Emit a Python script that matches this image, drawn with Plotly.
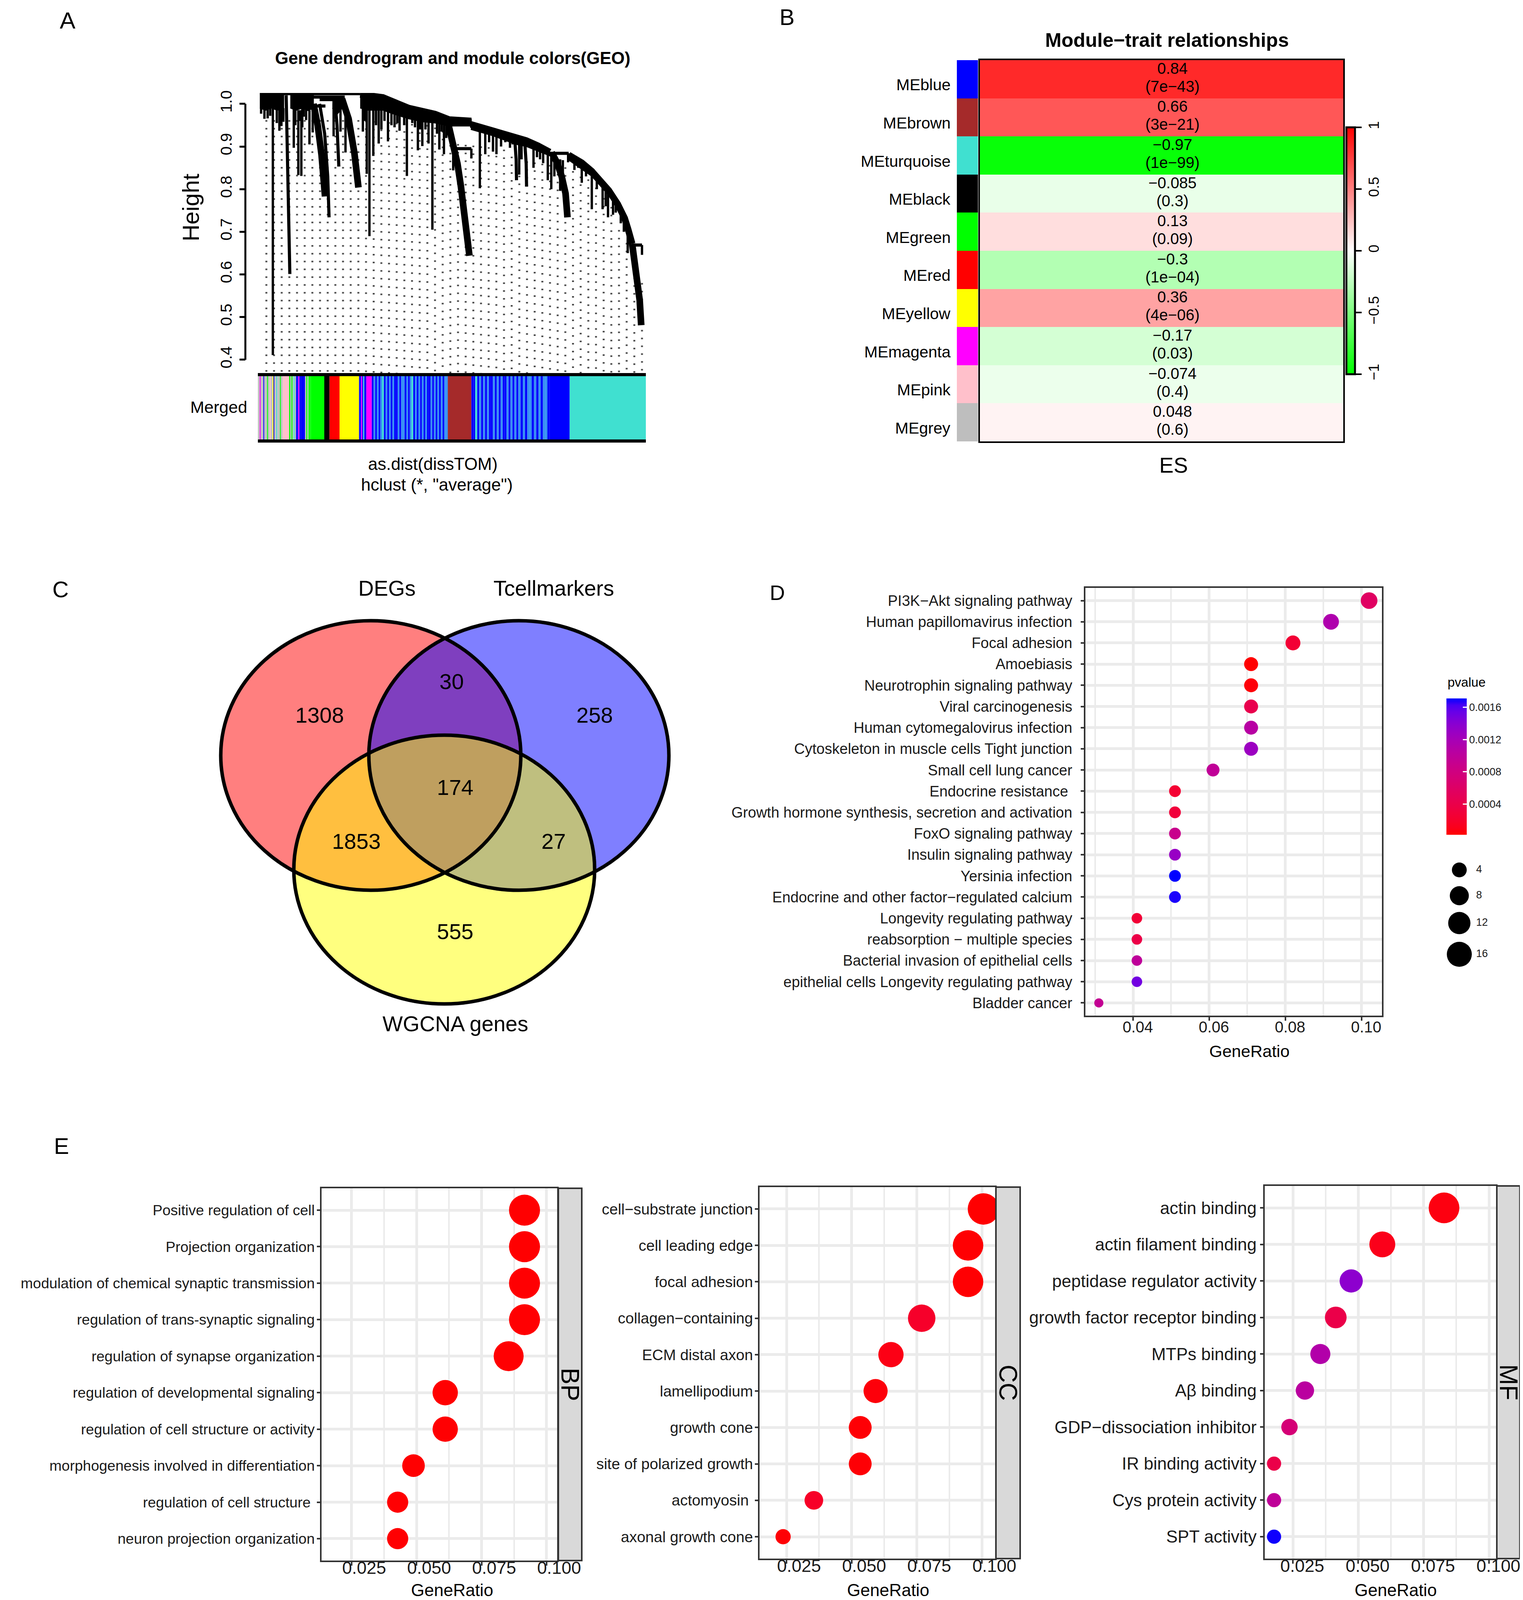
import numpy as np
import plotly.graph_objects as go

W, H = 3898, 4109
REG = "Liberation Sans, Arial, Helvetica, sans-serif"

# ====================== DATA ======================
# ---- Panel A : dendrogram (leaf position in % of ordered genes, merge height) ----
dendro_heavy = [
    [(26.0, 1.022), (31.9, 1.015), (38.6, 0.990), (45.4, 0.976), (49.1, 0.963), (54.8, 0.960)],
    [(54.65, 0.952), (57.0, 0.946), (60.4, 0.938), (64.8, 0.927), (66.3, 0.921), (69.0, 0.914), (72.0, 0.902), (75.1, 0.887)],
    [(80.0, 0.880), (83.4, 0.862), (86.0, 0.842), (88.8, 0.816), (90.4, 0.797), (92.7, 0.765), (94.5, 0.732), (95.4, 0.706), (96.45, 0.672)],
    [(96.45, 0.672), (97.2, 0.630), (97.9, 0.585), (98.4, 0.540), (98.8, 0.481)],
    [(48.7, 0.958), (50.2, 0.907), (51.2, 0.860), (52.1, 0.806), (53.1, 0.739), (53.8, 0.690), (54.3, 0.644)],
    [(13.9, 1.000), (15.0, 0.950), (16.0, 0.880), (16.75, 0.800), (16.9, 0.783)],
    [(21.3, 1.012), (23.0, 0.965), (24.5, 0.885), (25.3, 0.830), (25.55, 0.804)],
    [(75.6, 0.886), (77.0, 0.862), (78.2, 0.830), (79.2, 0.790), (79.7, 0.734)],
]
dendro_light = [
    [(6.83, 1.020), (7.3, 0.800), (7.78, 0.601)],
    [(15.5, 1.000), (16.8, 0.930), (17.6, 0.830), (17.94, 0.734)],
    [(19.5, 1.005), (20.0, 0.950), (20.47, 0.853)],
    [(66.0, 0.922), (66.4, 0.870), (66.5, 0.821)],
    [(68.6, 0.915), (69.0, 0.860), (69.1, 0.806)],
    [(0.0, 1.024), (26.0, 1.024)],
    [(13.9, 1.016), (22.0, 1.016)],
    [(15.5, 1.010), (21.3, 1.010)],
    [(13.9, 0.995), (17.0, 0.995)],
    [(75.1, 0.884), (80.0, 0.884)],
    [(96.45, 0.669), (99.0, 0.669)],
    [(50.6, 0.895), (54.8, 0.895)],
]
dendro_canopy = [
    [(0, 1.026), (6.2, 1.026), (6.2, 0.99), (4.5, 0.985), (3.0, 0.99), (1.5, 0.985), (0, 0.99)],
    [(7.9, 1.021), (13.9, 1.021), (13.9, 0.99), (12.5, 0.984), (11.0, 0.99), (9.5, 0.985), (7.9, 0.99)],
    [(18.8, 1.013), (21.8, 1.013), (21.8, 0.995), (20.0, 0.975), (18.8, 0.99)],
    [(26.0, 1.026), (31.9, 1.019), (38.6, 0.994), (45.4, 0.980), (49.1, 0.967), (54.8, 0.964),
     (54.8, 0.948), (49.1, 0.948), (45.4, 0.955), (42.0, 0.958), (38.6, 0.965), (35.0, 0.975),
     (31.9, 0.985), (28.0, 0.985), (26.0, 0.99)],
    [(54.65, 0.956), (60.4, 0.942), (66.3, 0.925), (69.0, 0.918), (75.1, 0.891),
     (75.1, 0.878), (69.0, 0.900), (66.3, 0.905), (60.4, 0.925), (54.65, 0.940)],
    [(80.0, 0.884), (86.0, 0.846), (90.4, 0.801), (92.7, 0.769), (92.7, 0.752), (90.4, 0.785),
     (86.0, 0.830), (80.0, 0.868)],
]
# drops: (leaf position, top height, bottom height)
dendro_drops = [
    (0.34, 1.00, 0.977), (1.2, 0.99, 0.965), (2.03, 0.99, 0.966), (2.7, 0.99, 0.972), (3.38, 1.0, 0.411),
    (4.4, 0.99, 0.955), (5.08, 0.99, 0.937), (5.6, 0.99, 0.948), (6.09, 0.99, 0.958),
    (8.8, 1.0, 0.897), (9.2, 0.99, 0.95), (9.98, 0.985, 0.833), (10.3, 0.985, 0.96), (10.76, 0.985, 0.831),
    (11.0, 0.99, 0.945), (11.4, 0.99, 0.97), (12.0, 0.99, 0.962), (12.86, 0.985, 0.905), (13.7, 0.99, 0.933),
    (19.12, 1.0, 0.924), (20.9, 0.99, 0.935), (22.2, 0.99, 0.886),
    (26.7, 1.015, 0.935), (27.2, 1.015, 0.96), (27.7, 1.015, 0.836), (28.4, 1.015, 0.690), (29.4, 1.012, 0.878),
    (30.1, 1.012, 0.95), (30.8, 1.01, 0.907), (31.5, 1.01, 0.94), (32.3, 1.008, 0.96), (33.2, 1.005, 0.912),
    (34.1, 1.0, 0.95), (34.9, 1.0, 0.945), (35.6, 0.998, 0.955), (36.2, 0.995, 0.937), (37.4, 0.992, 0.95),
    (38.1, 0.99, 0.831), (39.5, 0.988, 0.955), (40.2, 0.986, 0.945), (40.95, 0.985, 0.891), (41.5, 0.984, 0.94),
    (42.1, 0.983, 0.901), (42.9, 0.981, 0.94), (43.7, 0.98, 0.907), (44.7, 0.977, 0.705), (45.9, 0.975, 0.93),
    (46.5, 0.975, 0.893), (47.1, 0.972, 0.935), (47.7, 0.97, 0.882), (48.3, 0.965, 0.92),
    (50.1, 0.899, 0.844), (54.8, 0.895, 0.872), (57.0, 0.946, 0.802), (58.4, 0.942, 0.882), (59.4, 0.94, 0.91),
    (60.4, 0.938, 0.888), (61.3, 0.935, 0.882), (62.5, 0.93, 0.90), (63.6, 0.93, 0.91), (64.8, 0.927, 0.897),
    (65.5, 0.924, 0.905), (67.2, 0.918, 0.834), (67.8, 0.917, 0.87), (70.9, 0.906, 0.850), (71.8, 0.903, 0.875),
    (72.6, 0.9, 0.87), (73.4, 0.896, 0.861), (74.6, 0.890, 0.821), (75.5, 0.886, 0.800), (76.3, 0.88, 0.83),
    (77.8, 0.87, 0.796), (78.5, 0.868, 0.804), (79.86, 0.884, 0.863), (81.5, 0.872, 0.845), (82.5, 0.868, 0.85),
    (83.4, 0.862, 0.815), (84.5, 0.853, 0.83), (86.0, 0.842, 0.753), (87.3, 0.83, 0.80), (88.8, 0.816, 0.753),
    (89.6, 0.806, 0.76), (90.2, 0.798, 0.734), (91.5, 0.782, 0.74), (92.2, 0.772, 0.745), (93.5, 0.748, 0.72),
    (94.3, 0.735, 0.70), (95.3, 0.706, 0.650), (99.0, 0.669, 0.646),
]
guide_top_pos = [0, 26, 44, 49, 50, 63, 66, 80, 83, 86, 88, 91, 93, 95.5, 97, 99, 100]
guide_top_h = [0.962, 0.962, 0.950, 0.930, 0.907, 0.895, 0.87, 0.85, 0.83, 0.82, 0.79, 0.76, 0.705, 0.667, 0.63, 0.58, 0.58]
height_ticks = [0.4, 0.5, 0.6, 0.7, 0.8, 0.9, 1.0]

# module colour row ("Merged"): (start %, end %, leaf colour codes spread evenly)
merged_blocks = [
    (-0.5, 5.93, "aamaaabaaagaapaaybaataaagaa"),
    (5.93, 7.6, "p"),
    (7.6, 13.2, "gagatabbmbbbbbagagg"),
    (13.2, 16.7, "g"),
    (16.7, 18.07, "k"),
    (18.07, 20.66, "r"),
    (20.66, 25.7, "y"),
    (25.7, 27.6, "bbmbtbb"),
    (27.6, 29.0, "m"),
    (29.0, 48.7, "bdbdbdtbdbdbdbbdbddbdbdtbdbdbdbdbbdbdbdbdbdd"),
    (48.7, 54.8, "n"),
    (54.8, 66.97, "bbtbdbdbdbbdbdbdbbdbdbdb"),
    (66.97, 75.08, "dbdbddbdbdbddb"),
    (75.08, 80.25, "b"),
    (80.25, 100.0, "t"),
]
code_hex = {'a': '#BEBEBE', 'p': '#FFC0CB', 'g': '#00FF00', 'k': '#000000', 'r': '#FF0000', 'y': '#FFFF00',
            'b': '#0000FF', 'm': '#FF00FF', 'n': '#A52A2A', 't': '#40E0D0', 'd': '#3590F3'}

# ---- Panel B : module-trait relationships ----
modules = ["MEblue", "MEbrown", "MEturquoise", "MEblack", "MEgreen", "MEred", "MEyellow", "MEmagenta", "MEpink", "MEgrey"]
module_colors = ["#0000FF", "#A52A2A", "#40E0D0", "#000000", "#00FF00", "#FF0000", "#FFFF00", "#FF00FF", "#FFC0CB", "#BEBEBE"]
module_cor = [0.84, 0.66, -0.97, -0.085, 0.13, -0.3, 0.36, -0.17, -0.074, 0.048]
module_p = ["7e−43", "3e−21", "1e−99", "0.3", "0.09", "1e−04", "4e−06", "0.03", "0.4", "0.6"]

# ---- Panel C : Venn ----
venn_sets = ["DEGs", "Tcellmarkers", "WGCNA genes"]
venn_regions = ["DEGs only", "DEGs&Tcell", "Tcell only", "all three", "DEGs&WGCNA", "Tcell&WGCNA", "WGCNA only"]
venn_counts = [1308, 30, 258, 174, 1853, 27, 555]

# ---- Panel D : KEGG ----
kegg_terms = [
    "PI3K−Akt signaling pathway", "Human papillomavirus infection", "Focal adhesion", "Amoebiasis",
    "Neurotrophin signaling pathway", "Viral carcinogenesis", "Human cytomegalovirus infection",
    "Cytoskeleton in muscle cells Tight junction", "Small cell lung cancer", "Endocrine resistance ",
    "Growth hormone synthesis, secretion and activation", "FoxO signaling pathway", "Insulin signaling pathway",
    "Yersinia infection", "Endocrine and other factor−regulated calcium", "Longevity regulating pathway",
    "reabsorption − multiple species", "Bacterial invasion of epithelial cells",
    "epithelial cells Longevity regulating pathway", "Bladder cancer"]
kegg_ratio = [0.102, 0.092, 0.082, 0.071, 0.071, 0.071, 0.071, 0.071, 0.061, 0.051,
              0.051, 0.051, 0.051, 0.051, 0.051, 0.041, 0.041, 0.041, 0.041, 0.031]
kegg_count = [10, 9, 8, 7, 7, 7, 7, 7, 6, 5, 5, 5, 5, 5, 5, 4, 4, 4, 4, 3]
kegg_p = [0.00057, 0.00113, 0.00026, 0.00002, 0.00005, 0.00043, 0.00106, 0.00127, 0.00097, 0.00024,
          0.00029, 0.00089, 0.00130, 0.00171, 0.00168, 0.00027, 0.00038, 0.00099, 0.00150, 0.00094]
kegg_p_ticks = [0.0004, 0.0008, 0.0012, 0.0016]
kegg_size_breaks = [4, 8, 12, 16]
ratio_ticks_d = [0.04, 0.06, 0.08, 0.10]

# ---- Panel E : GO ----
bp_terms = ["Positive regulation of cell", "Projection organization", "modulation of chemical synaptic transmission",
            "regulation of trans-synaptic signaling", "regulation of synapse organization",
            "regulation of developmental signaling", "regulation of cell structure or activity",
            "morphogenesis involved in differentiation", "regulation of cell structure ", "neuron projection organization"]
bp_ratio = [0.0915, 0.0915, 0.0915, 0.0915, 0.0854, 0.0610, 0.0610, 0.0488, 0.0427, 0.0427]
bp_count = [15, 15, 15, 15, 14, 10, 10, 8, 7, 7]
bp_padj = [0.00002, 0.00002, 0.00003, 0.00003, 0.00004, 0.00002, 0.00003, 0.00002, 0.00003, 0.00003]

cc_terms = ["cell−substrate junction", "cell leading edge", "focal adhesion", "collagen−containing",
            "ECM distal axon", "lamellipodium", "growth cone", "site of polarized growth", "actomyosin ",
            "axonal growth cone"]
cc_ratio = [0.1006, 0.0947, 0.0947, 0.0769, 0.0651, 0.0592, 0.0533, 0.0533, 0.0355, 0.0237]
cc_count = [17, 16, 16, 13, 11, 10, 9, 9, 6, 4]
cc_padj = [0.00002, 0.00005, 0.00005, 0.0010, 0.0004, 0.0002, 0.0001, 0.0001, 0.0009, 0.0001]

mf_terms = ["actin binding", "actin filament binding", "peptidase regulator activity",
            "growth factor receptor binding", "MTPs binding", "Aβ binding", "GDP−dissociation inhibitor",
            "IR binding activity", "Cys protein activity", "SPT activity"]
mf_ratio = [0.0828, 0.0592, 0.0473, 0.0414, 0.0355, 0.0296, 0.0237, 0.0178, 0.0178, 0.0178]
mf_count = [14, 10, 8, 7, 6, 5, 4, 3, 3, 3]
mf_padj = [0.0003, 0.0005, 0.0080, 0.0022, 0.0064, 0.0060, 0.0042, 0.0022, 0.0057, 0.0099]
go_padj_range = [0.0, 0.0100]
ratio_ticks_e = [0.025, 0.050, 0.075, 0.100]


# ====================== HELPERS ======================
def dx(x0, x1):
    return [x0 / W, x1 / W]


def dy(y0, y1):
    return [1 - y1 / H, 1 - y0 / H]


def _lin(c):
    c = c / 255.0
    return c / 12.92 if c <= 0.04045 else ((c + 0.055) / 1.055) ** 2.4


def lab_from_hex(h):
    r, g, b = [int(h[i:i + 2], 16) for i in (1, 3, 5)]
    R, G, B = _lin(r), _lin(g), _lin(b)
    X = 0.4124564 * R + 0.3575761 * G + 0.1804375 * B
    Y = 0.2126729 * R + 0.7151522 * G + 0.0721750 * B
    Z = 0.0193339 * R + 0.1191920 * G + 0.9503041 * B

    def f(t):
        return t ** (1 / 3) if t > (6 / 29) ** 3 else t / (3 * (6 / 29) ** 2) + 4 / 29
    fx, fy, fz = f(X / 0.95047), f(Y), f(Z / 1.08883)
    return (116 * fy - 16, 500 * (fx - fy), 200 * (fy - fz))


def hex_from_lab(L, a, b):
    fy = (L + 16) / 116
    fx = fy + a / 500
    fz = fy - b / 200

    def finv(t):
        return t ** 3 if t > 6 / 29 else 3 * (6 / 29) ** 2 * (t - 4 / 29)
    X, Y, Z = 0.95047 * finv(fx), finv(fy), 1.08883 * finv(fz)
    R = 3.2404542 * X - 1.5371385 * Y - 0.4985314 * Z
    G = -0.9692660 * X + 1.8760108 * Y + 0.0415560 * Z
    B = 0.0556434 * X - 0.2040259 * Y + 1.0572252 * Z

    def g(c):
        c = 12.92 * c if c <= 0.0031308 else 1.055 * c ** (1 / 2.4) - 0.055
        return int(round(min(max(c, 0), 1) * 255))
    return '#%02X%02X%02X' % (g(R), g(G), g(B))


def lab_scale(c0, c1, n=21):
    a, b = lab_from_hex(c0), lab_from_hex(c1)
    out = []
    for i in range(n):
        t = i / (n - 1)
        out.append([t, hex_from_lab(*[a[k] + (b[k] - a[k]) * t for k in range(3)])])
    return out


RED_BLUE = lab_scale('#FF0000', '#0000FF')

data = []
lay = dict(width=W, height=H, margin=dict(l=0, r=0, t=0, b=0), paper_bgcolor='white',
           plot_bgcolor='white', showlegend=False, template='none',
           font=dict(family=REG, color='black'))
annotations = []
shapes = []


def ann(text, x, y, size, weight='normal', angle=0, xanchor='center', yanchor='middle'):
    annotations.append(dict(text=text, x=x / W, y=1 - y / H, xref='paper', yref='paper', showarrow=False,
                            textangle=angle, xanchor=xanchor, yanchor=yanchor,
                            font=dict(size=size, family=REG, weight=weight, color='black')))


def polyline_xy(lines):
    xs, ys = [], []
    for ln in lines:
        for p, h in ln:
            xs.append(p)
            ys.append(h)
        xs.append(None)
        ys.append(None)
    return xs, ys


# ====================== PANEL A ======================
H_MIN, H_MAX = 0.367, 1.0256
lay['xaxis'] = dict(domain=dx(652, 1645), range=[-0.5, 100], visible=False, anchor='y')
lay['yaxis'] = dict(domain=dy(230, 949), range=[H_MIN, H_MAX], anchor='free', position=620 / W,
                    tickmode='array', tickvals=height_ticks, ticktext=['%.1f' % v for v in height_ticks],
                    ticks='outside', ticklen=15, tickwidth=5, tickcolor='black', showline=False,
                    showgrid=False, zeroline=False, tickangle=-90, ticklabelstandoff=4,
                    tickfont=dict(family=REG, size=41, color='black'))
shapes.append(dict(type='line', xref='paper', yref='y', x0=620 / W, x1=620 / W,
                   y0=height_ticks[0], y1=height_ticks[-1], line=dict(color='black', width=5)))

gx, gy = [], []
for p in np.linspace(1.7, 99.0, 50):
    gx += [p, p, None]
    gy += [float(np.interp(p, guide_top_pos, guide_top_h)), H_MIN, None]
data.append(go.Scatter(x=gx, y=gy, mode='lines', line=dict(color='#4D4D4D', width=5, dash='4px,16px'),
                       xaxis='x', yaxis='y', hoverinfo='skip'))
cx, cy = polyline_xy(dendro_canopy)
data.append(go.Scatter(x=cx, y=cy, mode='lines', fill='toself', fillcolor='black',
                       line=dict(color='black', width=2), xaxis='x', yaxis='y', hoverinfo='skip'))
hx, hy = polyline_xy(dendro_heavy)
data.append(go.Scatter(x=hx, y=hy, mode='lines', line=dict(color='black', width=17),
                       xaxis='x', yaxis='y', hoverinfo='skip'))
lx, ly = polyline_xy(dendro_light)
data.append(go.Scatter(x=lx, y=ly, mode='lines', line=dict(color='black', width=8),
                       xaxis='x', yaxis='y', hoverinfo='skip'))
drx, dry = [], []
for p, t, b in dendro_drops:
    drx += [p, p, None]
    dry += [t, b, None]
data.append(go.Scatter(x=drx, y=dry, mode='lines', line=dict(color='black', width=6),
                       xaxis='x', yaxis='y', hoverinfo='skip'))

# merged colour row
seg_start, seg_w, seg_col = [], [], []
for s, e, codes in merged_blocks:
    step = (e - s) / len(codes)
    for i, c in enumerate(codes):
        seg_start.append(s + i * step)
        seg_w.append(step)
        seg_col.append(code_hex[c])
lay['xaxis2'] = dict(domain=dx(652, 1645), range=[-0.5, 100], anchor='y2', showline=True, mirror=True,
                     linecolor='black', linewidth=8, ticks='', showticklabels=False, showgrid=False,
                     zeroline=False)
lay['yaxis2'] = dict(domain=dy(955, 1117), range=[-0.5, 0.5], visible=False, anchor='x2')
data.append(go.Bar(x=seg_w, base=seg_start, y=[0] * len(seg_w), orientation='h', width=1,
                   marker=dict(color=seg_col, line=dict(width=0)), xaxis='x2', yaxis='y2', hoverinfo='skip'))

ann("A", 165, 44, 60)
ann("Gene dendrogram and module colors(GEO)", 1150, 141, 44, weight='bold')
ann("Height", 481, 523, 60, angle=-90)
ann("Merged", 627, 1034, 43, xanchor='right')
ann("as.dist(dissTOM)", 1100, 1179, 44)
ann("hclust (*, \"average\")", 1110, 1232, 44)

# ====================== PANEL B ======================
n_mod = len(modules)
disc = []
for i, c in enumerate(module_colors):
    disc += [[i / n_mod, c], [(i + 1) / n_mod, c]]
lay['xaxis3'] = dict(domain=dx(2441, 2495), range=[-0.5, 0.5], visible=False, anchor='y3')
lay['yaxis3'] = dict(domain=dy(146, 1122), range=[n_mod - 0.5, -0.5], visible=False, anchor='x3')
data.append(go.Heatmap(z=[[i] for i in range(n_mod)], x=[0], y=list(range(n_mod)), colorscale=disc,
                       zmin=-0.5, zmax=n_mod - 0.5, showscale=False, xaxis='x3', yaxis='y3', hoverinfo='skip'))
lay['xaxis4'] = dict(domain=dx(2500, 3430), range=[-0.5, 0.5], anchor='y4', showline=True, mirror=True,
                     linecolor='black', linewidth=4, ticks='', showticklabels=False, showgrid=False, zeroline=False)
lay['yaxis4'] = dict(domain=dy(146, 1122), range=[n_mod - 0.5, -0.5], anchor='x4', showline=True, mirror=True,
                     linecolor='black', linewidth=4, ticks='', showticklabels=False, showgrid=False, zeroline=False)
data.append(go.Heatmap(
    z=[[v] for v in module_cor], x=[0], y=list(range(n_mod)),
    colorscale=[[0, '#00FF00'], [0.5, '#FFFFFF'], [1, '#FF0000']], zmin=-1, zmax=1,
    xaxis='x4', yaxis='y4', hoverinfo='skip',
    colorbar=dict(x=3438 / W, xanchor='left', y=1 - 634 / H, yanchor='middle', len=632 / H, lenmode='fraction',
                  thickness=22, outlinewidth=5, outlinecolor='black', ticks='outside', ticklen=15, tickwidth=4,
                  tickcolor='black', tickmode='array', tickvals=[-1, -0.5, 0, 0.5, 1],
                  ticktext=['−1', '−0.5', '0', '0.5', '1'], tickangle=-90, xpad=0, ypad=0,
                  tickfont=dict(family=REG, size=37, color='black'))))
cor_txt = [('%g' % v).replace('-', '−') for v in module_cor]
data.append(go.Scatter(x=[0.03] * n_mod, y=[i - 0.245 for i in range(n_mod)], mode='text', text=cor_txt,
                       textfont=dict(family=REG, size=40, color='black'), xaxis='x4', yaxis='y4', hoverinfo='skip'))
data.append(go.Scatter(x=[0.03] * n_mod, y=[i + 0.225 for i in range(n_mod)], mode='text',
                       text=['(' + p + ')' for p in module_p],
                       textfont=dict(family=REG, size=40, color='black'), xaxis='x4', yaxis='y4', hoverinfo='skip'))
for i, m in enumerate(modules):
    annotations.append(dict(text=m, x=2427 / W, y=i + 0.15, xref='paper', yref='y3', showarrow=False,
                            xanchor='right', yanchor='middle', font=dict(family=REG, size=41, color='black')))
ann("B", 2006, 35, 58)
ann("Module−trait relationships", 2979, 95, 50, weight='bold')
ann("ES", 2995, 1183, 55)

# ====================== PANEL C ======================
lay['xaxis5'] = dict(domain=dx(0, 1900), range=[0, 1900], visible=False, anchor='y5')
lay['yaxis5'] = dict(domain=dy(1400, 2700), range=[2700, 1400], visible=False, anchor='x5')
venn_ellipses = [(941, 1926, 384, 345, 'rgba(255,0,0,0.5)'),
                 (1320, 1926, 384, 345, 'rgba(0,0,255,0.5)'),
                 (1129, 2218, 385, 344, 'rgba(255,255,0,0.5)')]
for cxp, cyp, rx, ry, fc in venn_ellipses:
    shapes.append(dict(type='circle', xref='x5', yref='y5', x0=cxp - rx, x1=cxp + rx, y0=cyp - ry, y1=cyp + ry,
                       fillcolor=fc, line=dict(width=0), layer='below'))
for cxp, cyp, rx, ry, fc in venn_ellipses:
    shapes.append(dict(type='circle', xref='x5', yref='y5', x0=cxp - rx, x1=cxp + rx, y0=cyp - ry, y1=cyp + ry,
                       fillcolor='rgba(0,0,0,0)', line=dict(color='black', width=9), layer='below'))
venn_text_xy = [(810, 1828), (1148, 1742), (1514, 1828), (1157, 2013), (904, 2151), (1409, 2151), (1157, 2382)]
data.append(go.Scatter(x=[p[0] for p in venn_text_xy], y=[p[1] for p in venn_text_xy], mode='text',
                       text=[str(c) for c in venn_counts], textfont=dict(family=REG, size=56, color='black'),
                       xaxis='x5', yaxis='y5', hoverinfo='skip'))
ann("C", 147, 1501, 58)
ann(venn_sets[0], 983, 1498, 55)
ann(venn_sets[1], 1409, 1498, 55)
ann(venn_sets[2], 1157, 2613, 55)


# ====================== DOT PLOT AXES ======================
def dot_axes(n, xdom, ydom, xr, xticks, xtext, minor_vals, cats, ysize, ystand, xsize, xshift, xstand):
    lay['xaxis%d' % n] = dict(
        domain=xdom, range=xr, anchor='y%d' % n, tickmode='array', tickvals=xticks, ticktext=xtext,
        ticks='outside', ticklen=9, tickwidth=4, tickcolor='#333333', showline=True, mirror=True,
        linecolor='#333333', linewidth=4, showgrid=True, gridcolor='#EBEBEB', gridwidth=7, zeroline=False,
        minor=dict(tickmode='array', tickvals=minor_vals, showgrid=True, gridcolor='#EBEBEB', gridwidth=4, ticks=''),
        tickfont=dict(family=REG, size=xsize, color='#1A1A1A'),
        ticklabelstandoff=xstand, ticklabelshift=xshift)
    lay['yaxis%d' % n] = dict(
        domain=ydom, anchor='x%d' % n, type='category', categoryorder='array', categoryarray=cats[::-1],
        range=[-0.6, len(cats) - 0.4], ticks='outside', ticklen=8, tickwidth=4, tickcolor='#333333',
        showline=True, mirror=True, linecolor='#333333', linewidth=4, showgrid=True, gridcolor='#EBEBEB',
        gridwidth=7, zeroline=False, tickfont=dict(family=REG, size=ysize, color='#1A1A1A'),
        ticklabelstandoff=ystand)


# ====================== PANEL D ======================
dot_axes(6, dx(2770, 3529), dy(1497, 2592), [0.02747, 0.10538], ratio_ticks_d,
         ['%.2f' % v for v in ratio_ticks_d], [0.03, 0.05, 0.07, 0.09], kegg_terms, 38, 14, 40, 12, -18)
data.append(go.Scatter(
    x=kegg_ratio, y=kegg_terms, mode='markers', xaxis='x6', yaxis='y6', hoverinfo='skip',
    marker=dict(size=[13.5 * np.sqrt(c) for c in kegg_count], color=kegg_p, colorscale=RED_BLUE,
                cmin=min(kegg_p), cmax=max(kegg_p), opacity=1, line=dict(width=0), showscale=True,
                colorbar=dict(x=3694 / W, xanchor='left', y=1 - 1954.5 / H, yanchor='middle', len=349 / H,
                              lenmode='fraction', thickness=52, outlinewidth=0, ticks='inside', ticklen=10,
                              tickwidth=3, tickcolor='white', tickmode='array', tickvals=kegg_p_ticks,
                              ticktext=['%.4f' % v for v in kegg_p_ticks], xpad=0, ypad=0,
                              tickfont=dict(family=REG, size=27, color='#1A1A1A')))))
lay['xaxis7'] = dict(domain=dx(3680, 3840), range=[3680, 3840], visible=False, anchor='y7')
lay['yaxis7'] = dict(domain=dy(2170, 2480), range=[2480, 2170], visible=False, anchor='x7')
leg_y = [2219, 2285, 2355, 2435]
data.append(go.Scatter(x=[3727] * 4, y=leg_y, mode='markers', xaxis='x7', yaxis='y7', hoverinfo='skip',
                       marker=dict(color='black', size=[12 + 13 * np.sqrt(b) for b in kegg_size_breaks],
                                   opacity=1, line=dict(width=0))))
data.append(go.Scatter(x=[3770] * 4, y=leg_y, mode='text', text=[str(b) for b in kegg_size_breaks],
                       textposition='middle right', textfont=dict(family=REG, size=27, color='#1A1A1A'),
                       xaxis='x7', yaxis='y7', hoverinfo='skip'))
ann("D", 1981, 1509, 54)
ann("pvalue", 3695, 1739, 33, xanchor='left')
ann("GeneRatio", 3190, 2683, 43)

# ====================== PANEL E ======================
e_minor = [0.0375, 0.0625, 0.0875]
e_text = ['%.3f' % v for v in ratio_ticks_e]
panels_e = [
    (8, (815, 1418), (3034, 3987), [0.01343, 0.10406], bp_terms, bp_ratio, bp_count, bp_padj, 20.5, 37.5, -2, 32,
     (1421, 1481), "BP", 1149),
    (9, (1936, 2539), (3031, 3982), [0.01465, 0.1051], cc_terms, cc_ratio, cc_count, cc_padj, 19.5, 39, -3, 32,
     (2541, 2603), "CC", 2265),
    (10, (3229, 3821), (3028, 3982), [0.01424, 0.10269], mf_terms, mf_ratio, mf_count, mf_padj, 21.0, 44, 0, 24,
     (3823, 3882), "MF", 3564),
]
for (n, (x0, x1), (y0, y1), xr, terms, ratio, count, padj, k, fs, stand, shift, (s0, s1), lab, gx_c) in panels_e:
    dot_axes(n, dx(x0, x1), dy(y0, y1), xr, ratio_ticks_e, e_text, e_minor, terms, fs, stand, 45, shift, -33)
    data.append(go.Scatter(
        x=ratio, y=terms, mode='markers', xaxis='x%d' % n, yaxis='y%d' % n, hoverinfo='skip',
        marker=dict(size=[k * np.sqrt(c) for c in count], color=padj, colorscale=RED_BLUE, opacity=1,
                    cmin=go_padj_range[0], cmax=go_padj_range[1], line=dict(width=0), showscale=False)))
    shapes.append(dict(type='rect', xref='paper', yref='paper', x0=s0 / W, x1=s1 / W, y0=1 - y1 / H, y1=1 - y0 / H,
                       fillcolor='#D9D9D9', line=dict(color='#333333', width=4)))
    ann(lab, (s0 + s1) / 2, (y0 + y1) / 2 + 25, 64, angle=90)
    ann("GeneRatio", gx_c, 4062, 44)
ann("E", 149, 2925, 58)

lay['annotations'] = annotations
lay['shapes'] = shapes
fig = go.Figure(data=data, layout=lay)
fig.write_html("out.html")
